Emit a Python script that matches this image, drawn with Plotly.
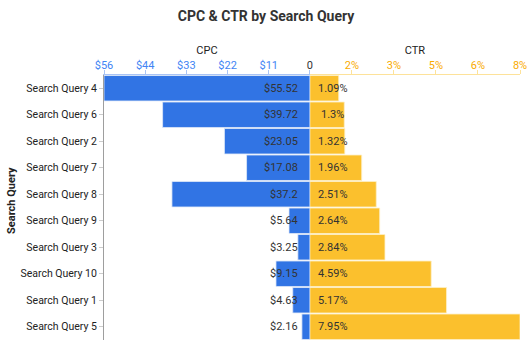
import plotly.graph_objects as go

queries = ["Search Query 4", "Search Query 6", "Search Query 2", "Search Query 7",
           "Search Query 8", "Search Query 9", "Search Query 3", "Search Query 10",
           "Search Query 1", "Search Query 5"]
cpc = [55.52, 39.72, 23.05, 17.08, 37.2, 5.64, 3.25, 9.15, 4.63, 2.16]
ctr = [1.09, 1.3, 1.32, 1.96, 2.51, 2.64, 2.84, 4.59, 5.17, 7.95]

cpc_labels = ["$" + f"{v:g}" for v in cpc]
ctr_labels = [f"{v:g}%" for v in ctr]

cpc_max = max(cpc)
ctr_max = max(ctr)
n_ticks = 5
cpc_tickvals = [cpc_max * i / n_ticks for i in range(n_ticks + 1)]
cpc_ticktext = ["<span style='color:#333333'>0</span>"] + ["$" + str(round(v)) for v in cpc_tickvals[1:]]
ctr_tickvals = [ctr_max * i / n_ticks for i in range(1, n_ticks + 1)]
ctr_ticktext = [f"{round(v)}%" for v in ctr_tickvals]

BLUE = "#3174e4"
YELLOW = "#fbc02d"
FONT = "Roboto"

fig = go.Figure()
fig.add_trace(go.Bar(
    y=queries, x=cpc, orientation="h", xaxis="x", yaxis="y",
    marker=dict(color=BLUE, line=dict(color="#dfe8f8", width=0.8)),
    showlegend=False, hoverinfo="skip",
))
fig.add_trace(go.Bar(
    y=queries, x=ctr, orientation="h", xaxis="x2", yaxis="y",
    marker=dict(color=YELLOW, line=dict(color="#fdf0c8", width=0.8)),
    showlegend=False, hoverinfo="skip",
))

annotations = []
for q, t in zip(queries, cpc_labels):
    annotations.append(dict(x=0, y=q, xref="x", yref="y", text=t, showarrow=False,
                            xanchor="right", xshift=-10,
                            font=dict(family=FONT, size=11, color="#333333")))
for q, t in zip(queries, ctr_labels):
    annotations.append(dict(x=0, y=q, xref="x2", yref="y", text=t, showarrow=False,
                            xanchor="center", xshift=23,
                            font=dict(family=FONT, size=11, color="#333333")))
# y-axis title
annotations.append(dict(x=-0.221, y=0.525, xref="paper", yref="paper",
                        text="<b>Search Query</b>", textangle=-90, showarrow=False,
                        xanchor="center", yanchor="middle",
                        font=dict(family=FONT, size=11, color="#222222")))

split = 0.495
fig.update_layout(
    width=532, height=354,
    margin=dict(l=104, r=12, t=75, b=14),
    paper_bgcolor="white", plot_bgcolor="white",
    font=dict(family=FONT, size=11, color="#222222"),
    title=dict(text="<b>CPC & CTR by Search Query</b>", x=0.5, xanchor="center",
               y=0.955, yanchor="middle",
               font=dict(family=FONT, size=14, color="#333333")),
    bargap=0.04,
    annotations=annotations,
    xaxis=dict(domain=[0, split], range=[cpc_max, 0], side="top", anchor="y",
               automargin=False,
               tickvals=cpc_tickvals, ticktext=cpc_ticktext,
               tickfont=dict(family=FONT, size=11, color="#4285f4"),
               ticks="outside", ticklen=4, tickcolor="#a9c4f5", ticklabelstandoff=-3,
               showline=True, linecolor="#a9c4f5", showgrid=False, zeroline=False,
               title=dict(text="CPC", font=dict(family=FONT, size=11, color="#222222"), standoff=1)),
    xaxis2=dict(domain=[split, 1], range=[0, ctr_max], side="top", anchor="y",
                automargin=False,
                tickvals=ctr_tickvals, ticktext=ctr_ticktext,
                tickfont=dict(family=FONT, size=11, color="#f9ab00"),
                ticks="outside", ticklen=4, tickcolor="#fde29a", ticklabelstandoff=-3,
                showline=True, linecolor="#fde29a", showgrid=False, zeroline=False,
                title=dict(text="CTR", font=dict(family=FONT, size=11, color="#222222"), standoff=1)),
    yaxis=dict(categoryorder="array", categoryarray=queries, autorange="reversed",
               automargin=False,
               showline=True, linecolor="#9e9e9e", linewidth=1,
               ticks="outside", ticklen=4, tickcolor="#cccccc",
               tickfont=dict(family=FONT, size=10.5, color="#222222"),
               showgrid=False, zeroline=False),
)

fig.write_html("out.html")
